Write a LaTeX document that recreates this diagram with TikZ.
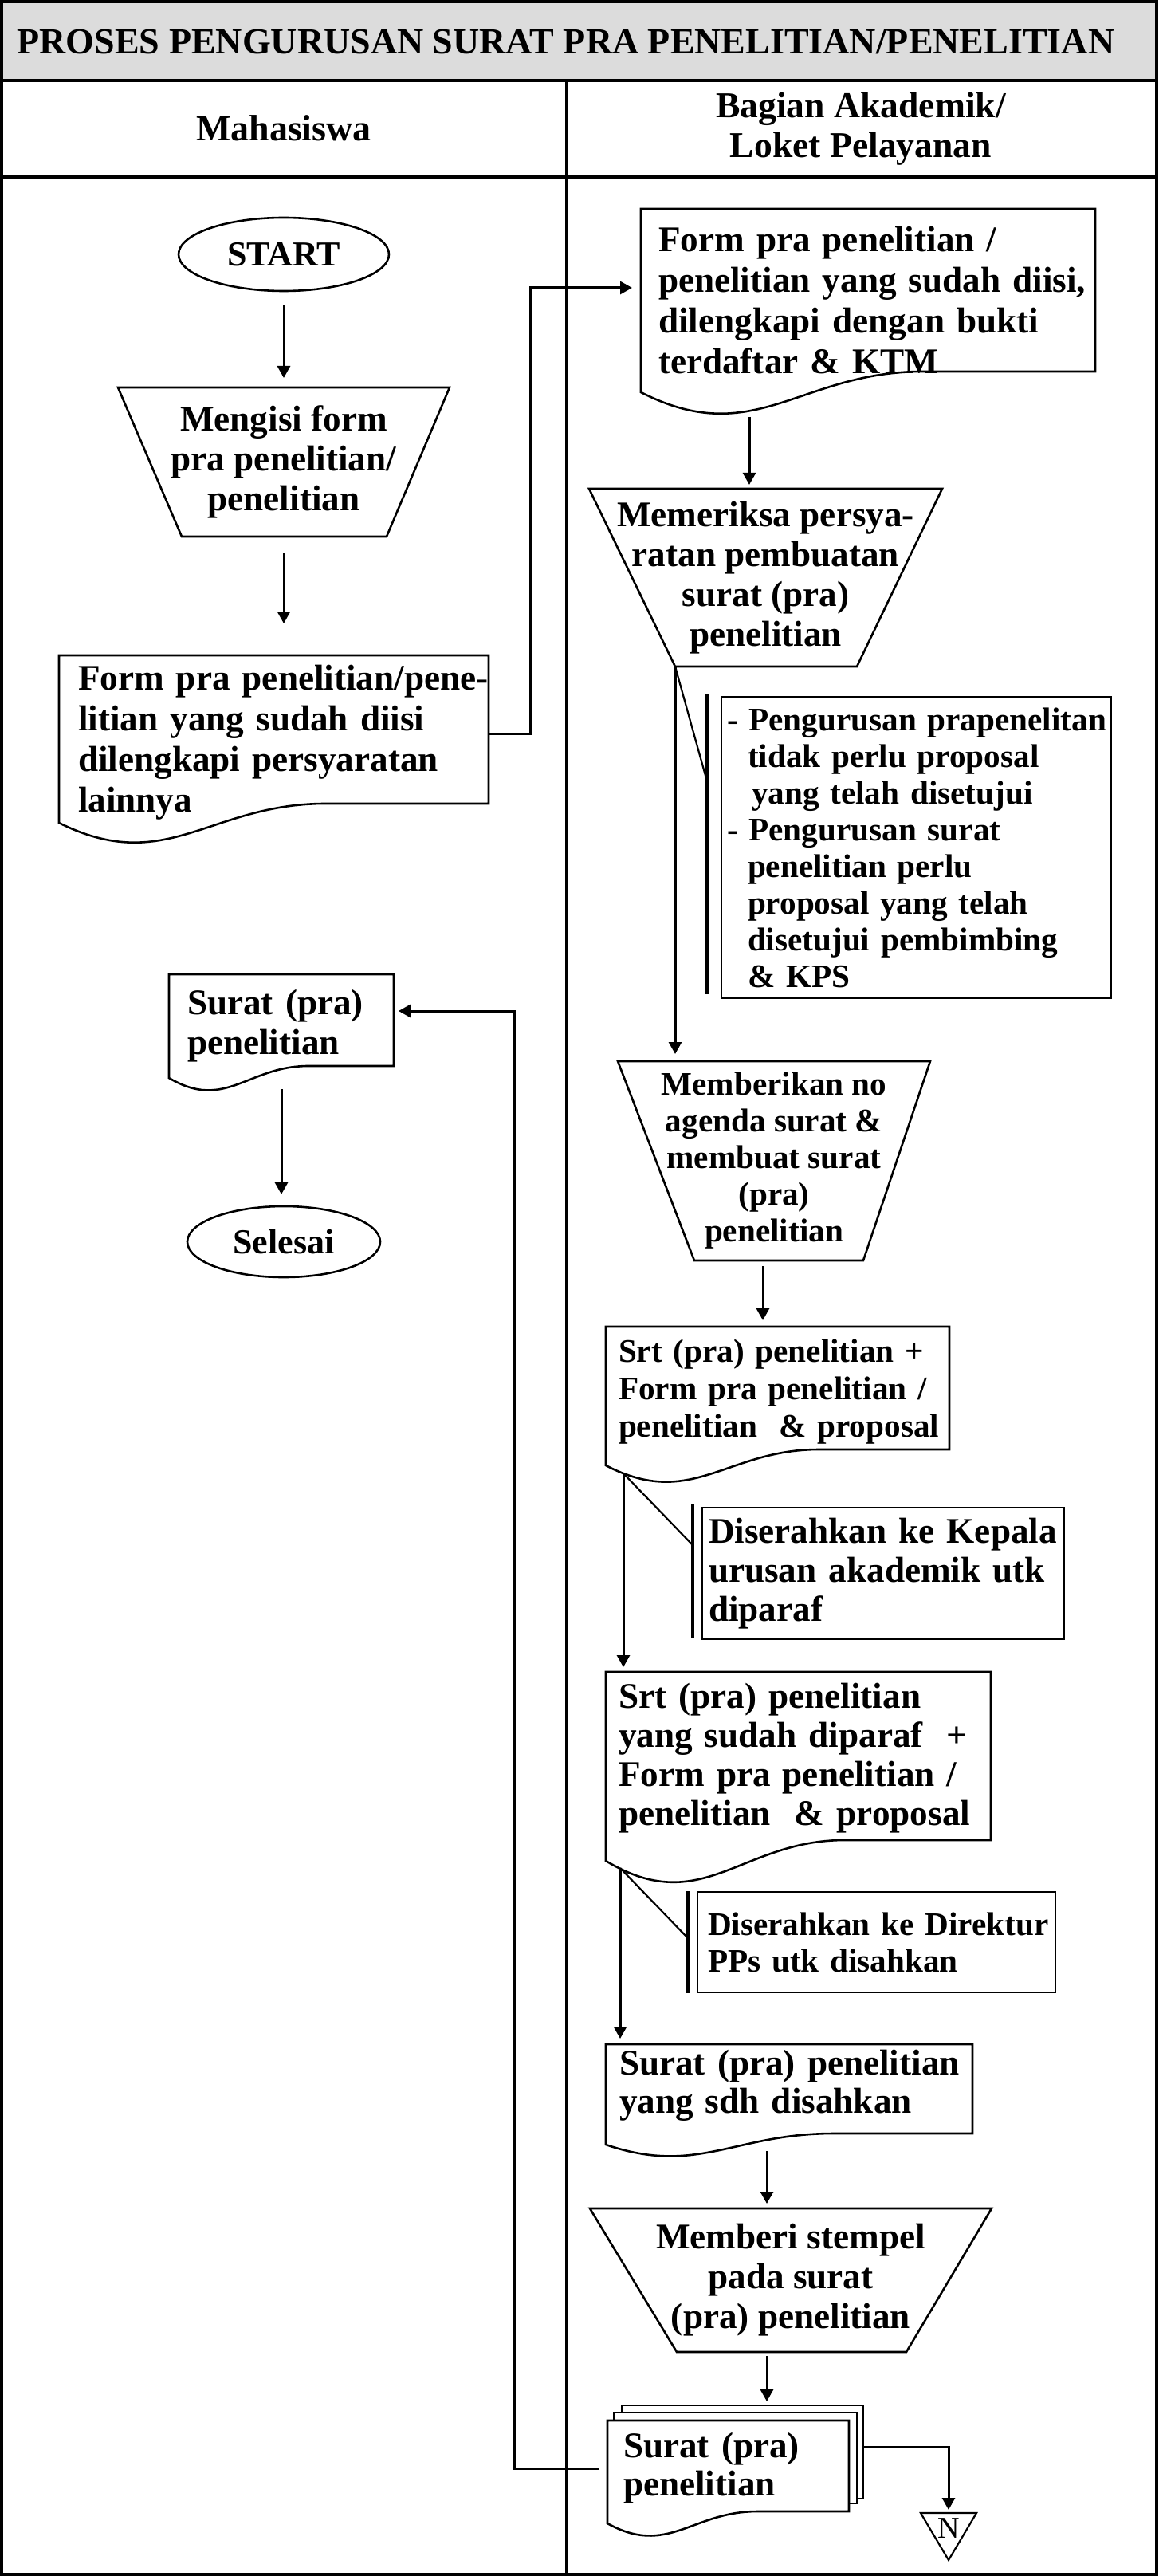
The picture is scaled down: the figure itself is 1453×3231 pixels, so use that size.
\documentclass[tikz,border=0pt]{standalone}
\usepackage{fontspec}
\setmainfont{Liberation Serif}
\usetikzlibrary{calc,arrows.meta,shapes.geometric}
\definecolor{titlegray}{RGB}{220,220,220}
\newcommand\mb[1]{\mbox{#1}}
\newcommand\docout[3][]{%
  \draw[shpline,#1] (#2.north west) -- (#2.north east) -- ($(#2.south east)+(0,-#3)$)
    -- ($(#2.south west)!0.62!(#2.south east)+(0,-#3)$)
    .. controls ($(#2.south west)!0.35!(#2.south east)+(0,-#3)$)
    and ($(#2.south west)!0.25!(#2.south east)+(0,2.8*#3)$) .. (#2.south west) -- cycle;}
\newcommand\trapout[3]{%
  \draw[shpline] (#1.north west) -- (#1.north east) -- ($(#1.south east)+(-#3,0)$)
    -- ($(#1.south west)+(#2,0)$) -- cycle;}
\tikzset{
  shpline/.style={line width=1.3pt, line join=miter},
  boxn/.style={rectangle, draw=none, outer sep=0pt, inner sep=0pt},
  dtxt/.style={align=left, inner ysep=0pt, outer sep=0pt},
  ctxt/.style={align=center, inner sep=0pt, outer sep=0pt},
  arrw/.style={line width=1.5pt, -{Triangle[length=7.5pt,width=8pt]}},
  annbar/.style={line width=2.2pt},
  annline/.style={line width=1.1pt},
  annbox/.style={rectangle, draw, line width=1.3pt, outer sep=0pt, align=left, inner ysep=0pt},
  termn/.style={ellipse, draw, line width=1.3pt, inner sep=0pt, outer sep=0pt,
    font=\fontsize{22}{24}\selectfont\bfseries},
  frm/.style={line width=2pt},
  big/.style={font=\fontsize{22.6}{#1}\selectfont\bfseries},
  small/.style={font=\fontsize{20.6}{#1}\selectfont\bfseries},
}
\begin{document}
\begin{tikzpicture}[x=0.5pt, y=-0.5pt]
\useasboundingbox (0,0) rectangle (1453,3231);
% title band and frame
\fill[titlegray] (3,3) rectangle (1450,101);
\node[anchor=base, inner sep=0pt, font=\fontsize{23}{24}\selectfont\bfseries] (title) at (710,68)
  {PROSES PENGURUSAN SURAT PRA PENELITIAN/PENELITIAN};
\node[anchor=base, inner sep=0pt, font=\fontsize{23}{24}\selectfont\bfseries] (hmhs) at (356,177) {Mahasiswa};
\node[ctxt, font=\fontsize{22.8}{25}\selectfont\bfseries] (hbag) at (1080,162) {Bagian Akademik/\\Loket Pelayanan};

% ---------- left column ----------
\node[termn, minimum width=132pt, minimum height=46pt] (start) at (356,319) {START};
\node[boxn, ctxt, big=25pt, minimum width=208pt, minimum height=93.5pt] (T1) at (356,579.5)
  {Mengisi form\\pra penelitian/\\penelitian};
\trapout{T1}{80}{79}
\node[boxn, minimum width=269.5pt, minimum height=105pt] (D0) at (343.5,927) {};
\docout{D0}{24}
\node[dtxt, big=25.5pt, text width=245.5pt, inner xsep=12pt] (D0t) at ($(D0)+(0,4)$)
  {\mb{Form pra penelitian/pene-}\\\mb{litian yang sudah diisi}\\\mb{dilengkapi persyaratan}\\\mb{lainnya}};
\node[boxn, minimum width=141pt, minimum height=65pt] (D9) at (353,1287) {};
\docout{D9}{15}
\node[dtxt, big=25pt, text width=118pt, inner xsep=11.5pt] (D9t) at (D9) {\mb{Surat (pra)}\\\mb{penelitian}};
\node[termn, minimum width=121pt, minimum height=44.5pt] (sel) at (356,1557.5) {Selesai};

% ---------- right column ----------
\node[boxn, minimum width=285pt, minimum height=115pt] (D1) at (1089,377) {};
\docout{D1}{26}
\node[dtxt, big=25.5pt, text width=263pt, inner xsep=11pt] (D1t) at (D1)
  {\mb{Form pra penelitian /}\\\mb{penelitian yang sudah diisi,}\\\mb{dilengkapi dengan bukti}\\\mb{terdaftar \& KTM}};
\node[boxn, ctxt, big=25pt, minimum width=221.5pt, minimum height=111.5pt] (T2) at (960.5,724.5)
  {Memeriksa persya-\\ratan pembuatan\\surat (pra)\\penelitian};
\trapout{T2}{108}{107}
\node[annbox, small=23pt, text width=237.5pt, inner xsep=3.5pt, minimum height=189pt] (A1) at (1149.5,1063)
  {\mb{- Pengurusan prapenelitan}\\\mb{\hspace*{13pt}tidak perlu proposal}\\\mb{\hspace*{15.5pt}yang telah disetujui}\\
   \mb{- Pengurusan surat}\\\mb{\hspace*{13pt}penelitian perlu}\\\mb{\hspace*{13pt}proposal yang telah}\\
   \mb{\hspace*{13pt}disetujui pembimbing}\\\mb{\hspace*{13pt}\& KPS}};
\node[boxn, ctxt, small=23pt, minimum width=196pt, minimum height=125pt] (T3) at (971,1456)
  {Memberikan no\\agenda surat \&\\membuat surat\\(pra)\\penelitian};
\trapout{T3}{96}{84}
\node[boxn, minimum width=215.5pt, minimum height=87pt] (D3) at (975.5,1751) {};
\docout{D3}{20}
\node[dtxt, small=23.5pt, text width=199.5pt, inner xsep=8pt] (D3t) at ($(D3)+(0,-5)$)
  {\mb{Srt (pra) penelitian +}\\\mb{Form pra penelitian /}\\\mb{penelitian\ \ \& proposal}};
\node[annbox, big=24.5pt, text width=219pt, inner xsep=4pt, minimum height=82.5pt] (A2) at (1108,1973.5)
  {\mb{Diserahkan ke Kepala}\\\mb{urusan akademik utk}\\\mb{diparaf}};
\node[boxn, minimum width=241.5pt, minimum height=118.5pt] (D4) at (1001.5,2215.5) {};
\docout{D4}{26}
\node[dtxt, big=24.5pt, text width=225.5pt, inner xsep=8pt] (D4t) at ($(D4)+(0,-10)$)
  {\mb{Srt (pra) penelitian}\\\mb{yang sudah diparaf\ \ +}\\\mb{Form pra penelitian /}\\\mb{penelitian\ \ \& proposal}};
\node[annbox, small=23pt, text width=211.5pt, inner xsep=6.5pt, minimum height=63pt] (A3) at (1099.5,2436)
  {\mb{Diserahkan ke Direktur}\\\mb{PPs utk disahkan}};
\node[boxn, minimum width=230pt, minimum height=63pt] (D5) at (990,2627) {};
\docout{D5}{14}
\node[dtxt, big=24pt, text width=213pt, inner xsep=8.5pt] (D5t) at ($(D5)+(0,-11)$)
  {\mb{Surat (pra) penelitian}\\\mb{yang sdh disahkan}};
\node[boxn, ctxt, big=25pt, minimum width=252pt, minimum height=90pt] (T4) at (992,2860)
  {Memberi stempel\\pada surat\\(pra) penelitian};
\trapout{T4}{109}{107}
% multi document
\node[boxn, draw, fill=white, line width=1.3pt, minimum width=151.5pt, minimum height=58.5pt] (MB) at (931.5,3075.5) {};
\node[boxn, draw, fill=white, line width=1.3pt, minimum width=152.5pt, minimum height=57pt] (MM) at (922.5,3083) {};
\node[boxn, minimum width=151.5pt, minimum height=64.5pt] (MF) at (913.5,3100.5) {};
\docout[fill=white]{MF}{15}
\node[dtxt, big=24pt, text width=131.5pt, inner xsep=10pt] (MFt) at ($(MF)+(0,-5)$) {\mb{Surat (pra)}\\\mb{penelitian}};
% off-page connector
\node[boxn, minimum width=35pt, minimum height=29.5pt] (N) at (1190,3181.5) {};
\draw[line width=1.1pt] (N.north west) -- (N.north east) -- (N.south) -- cycle;
\node[inner sep=0pt, font=\fontsize{19}{20}\selectfont] (Nt) at ($(N)+(0,-10)$) {N};

% ---------- connectors ----------
\draw[arrw, shorten <=9pt, shorten >=6pt] (start.south) -- (T1.north);
\draw[arrw, shorten <=10.5pt, shorten >=20pt] (T1.south) -- (T1.south |- D0.north);
\draw[arrw, shorten >=5.5pt] ([yshift=3.5pt]D0.east) -- ++(52,0) |- ([yshift=8pt]D1.west);
\coordinate (s4) at ($(D1.south west)+(136,31)$);
\draw[arrw, shorten >=2.5pt] (s4) -- (s4 |- T2.north);
\coordinate (t2c) at ($(T2.south west)+(108,0)$);
\draw[arrw, shorten >=4.5pt] (t2c) -- (t2c |- T3.north);
\draw[annline] (t2c) -- ($(A1.north west)+(-18,106)$);
\draw[annbar] ($(A1.north west)+(-18,-4)$) -- ($(A1.south west)+(-18,-5)$);
\coordinate (s6) at ($(T3.south)+(-14,7)$);
\draw[arrw, shorten >=4pt] (s6) -- (s6 |- D3.north);
\coordinate (s7) at ($(D3.south west)+(22,10)$);
\draw[arrw, shorten >=3pt] (s7) -- (s7 |- D4.north);
\draw[annline] (s7) -- ($(A2.north west)+(-12,47)$);
\draw[annbar] ($(A2.north west)+(-12,-4)$) -- ($(A2.south west)+(-12,-1)$);
\coordinate (s8) at ($(D4.south west)+(18,9)$);
\draw[arrw, shorten >=3.5pt] (s8) -- (s8 |- D5.north);
\draw[annline] (s8) -- ($(A3.north west)+(-12,58)$);
\draw[annbar] ($(A3.north west)+(-12,-1)$) -- ($(A3.south west)+(-12,1)$);
\coordinate (s9) at ($(D5.south west)+(202,8)$);
\draw[arrw, shorten >=3pt] (s9) -- (s9 |- T4.north);
\draw[arrw, shorten <=2.5pt, shorten >=2.5pt] (T4.south -| s9) -- (s9 |- MB.north);
\draw[arrw, shorten <=5pt, shorten >=3pt] ([yshift=2pt]MF.west) -- ++(-117,0) |- ([yshift=9.5pt]D9.east);
\draw[arrw, shorten >=2pt] ([yshift=3pt]MB.east) -| (N.north);
\draw[arrw, shorten <=7pt, shorten >=7.5pt] (D9.south) -- (D9.south |- sel.north);

% ---------- frame ----------
\draw[frm] (2,2) rectangle (1451,3229);
\draw[frm] (2,101) -- (1451,101);
\draw[frm] (2,222.5) -- (1451,222.5);
\draw[frm] (710.5,101) -- (710.5,3229);
\end{tikzpicture}
\end{document}
